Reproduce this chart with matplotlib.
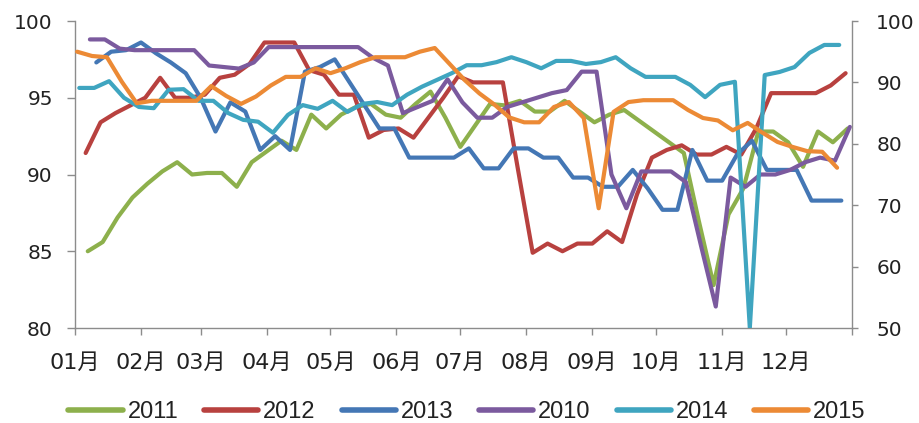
import numpy as np
import matplotlib
matplotlib.use("Agg")
import matplotlib.pyplot as plt

# ---- data (weekly, Friday observations; x = day of year) ----
months = ["01月", "02月", "03月", "04月", "05月", "06月",
          "07月", "08月", "09月", "10月", "11月", "12月"]
month_starts = [0, 31, 59, 90, 120, 151, 181, 212, 243, 273, 304, 334, 365]

start_2011 = 6
v2011 = [85.0, 85.6, 87.2, 88.5, 89.4, 90.2, 90.8, 90.0, 90.1, 90.1,
         89.2, 90.8, 91.5, 92.2, 91.6, 93.9, 93.0, 93.9, 94.4, 94.6,
         93.9, 93.7, 94.6, 95.4, 93.7, 91.8, 93.2, 94.6, 94.5, 94.8,
         94.1, 94.1, 94.8, 94.1, 93.4, 93.9, 94.2, 93.5, 92.8, 92.1,
         91.4, 87.0, 82.8, 87.4, 89.1, 92.8, 92.8, 92.1, 90.5, 92.8,
         92.1, 93.0]

start_2012 = 5
v2012 = [91.4, 93.4, 94.0, 94.5, 95.0, 96.3, 95.0, 95.0, 95.2, 96.3,
         96.5, 97.2, 98.6, 98.6, 98.6, 96.8, 96.5, 95.2, 95.2, 92.4,
         92.9, 93.0, 92.4, 93.7, 95.0, 96.4, 96.0, 96.0, 96.0, 90.4,
         84.9, 85.5, 85.0, 85.5, 85.5, 86.3, 85.6, 88.7, 91.1, 91.6,
         91.9, 91.3, 91.3, 91.8, 91.3, 93.0, 95.3, 95.3, 95.3, 95.3,
         95.8, 96.6]

start_2013 = 10
v2013 = [97.3, 98.0, 98.1, 98.6, 97.9, 97.3, 96.6, 95.0, 92.8, 94.7,
         94.1, 91.6, 92.5, 91.6, 96.7, 97.0, 97.5, 96.0, 94.5, 93.0,
         93.0, 91.1, 91.1, 91.1, 91.1, 91.7, 90.4, 90.4, 91.7, 91.7,
         91.1, 91.1, 89.8, 89.8, 89.2, 89.2, 90.3, 89.1, 87.7, 87.7,
         91.6, 89.6, 89.6, 91.3, 92.2, 90.3, 90.3, 90.3, 88.3, 88.3,
         88.3]

start_2010 = 7
v2010 = [98.8, 98.8, 98.2, 98.1, 98.1, 98.1, 98.1, 98.1, 97.1, 97.0,
         96.9, 97.3, 98.3, 98.3, 98.3, 98.3, 98.3, 98.3, 98.3, 97.6,
         97.1, 94.0, 94.4, 94.8, 96.2, 94.7, 93.7, 93.7, 94.4, 94.7,
         95.0, 95.3, 95.5, 96.7, 96.7, 90.0, 87.8, 90.2, 90.2, 90.2,
         89.5, 85.4, 81.4, 89.8, 89.2, 90.0, 90.0, 90.3, 90.8, 91.1,
         90.9, 93.1]

start_2014 = 2
v2014 = [89.1, 89.1, 90.2, 87.5, 86.0, 85.8, 88.8, 88.9, 87.0, 87.0,
         85.0, 83.9, 83.6, 81.8, 84.7, 86.3, 85.7, 87.0, 85.2, 86.5,
         86.8, 86.3, 88.0, 89.3, 90.4, 91.5, 92.8, 92.8, 93.3, 94.1,
         93.3, 92.3, 93.5, 93.5, 93.0, 93.3, 94.1, 92.3, 90.9, 90.9,
         90.9, 89.6, 87.6, 89.6, 90.1, 50.0, 91.2, 91.7, 92.5, 94.8,
         96.1, 96.1]

start_2015 = 1
v2015 = [95.0, 94.3, 94.1, 90.1, 86.6, 87.0, 87.0, 87.0, 87.0, 89.4,
         87.8, 86.5, 87.7, 89.5, 90.9, 90.9, 92.3, 91.5, 92.3, 93.3,
         94.1, 94.1, 94.1, 95.0, 95.6, 93.0, 90.4, 88.2, 86.4, 84.3,
         83.5, 83.5, 86.0, 86.8, 84.2, 69.5, 85.2, 86.8, 87.1, 87.1,
         87.1, 85.5, 84.2, 83.8, 82.2, 83.4, 81.8, 80.3, 79.5, 78.8,
         78.7, 76.1]

left_series = [("2011", start_2011, v2011, "#8DB04C"),
               ("2012", start_2012, v2012, "#B8413F"),
               ("2013", start_2013, v2013, "#4477B5"),
               ("2010", start_2010, v2010, "#7B5A9E")]
right_series = [("2014", start_2014, v2014, "#3FA5C0"),
                ("2015", start_2015, v2015, "#EC8A35")]

# ---- figure ----
fig = plt.figure(figsize=(9.19, 4.23), dpi=100)
ax = fig.add_axes([75/919, 1-328/423, (852-75)/919, (328-21)/423])
ax2 = ax.twinx()

def xs(start, vals):
    return start + 7*np.arange(len(vals))

handles = []
for name, st, vals, c in left_series:
    h, = ax.plot(xs(st, vals), vals, color=c, lw=3.0, label=name,
                 solid_joinstyle="round", solid_capstyle="round")
    handles.append(h)
for name, st, vals, c in right_series:
    h, = ax2.plot(xs(st, vals), vals, color=c, lw=3.0, label=name,
                  solid_joinstyle="round", solid_capstyle="round")
    handles.append(h)

ax.set_xlim(0, 365)
ax.set_ylim(80, 100)
ax2.set_ylim(50, 100)
ax.set_yticks([80, 85, 90, 95, 100])
ax2.set_yticks([50, 60, 70, 80, 90, 100])

ax.set_xticks(month_starts)
ax.set_xticklabels(months + [""], family=["DejaVu Sans", "Noto Sans CJK SC"],
                   fontsize=16, color="#222222")
for lab in ax.get_yticklabels():
    lab.set_fontsize(14.5); lab.set_color("#222222")
for lab in ax2.get_yticklabels():
    lab.set_fontsize(14.5); lab.set_color("#222222")

spine_c = "#8c8c8c"
for a in (ax, ax2):
    a.spines["top"].set_visible(False)
    for s in ("left", "right", "bottom"):
        a.spines[s].set_color(spine_c)
        a.spines[s].set_linewidth(1.0)
ax.spines["right"].set_visible(False)
ax2.spines["left"].set_visible(False)
ax2.spines["bottom"].set_visible(False)

ax.tick_params(axis="x", direction="out", length=5, width=1, color=spine_c, pad=13)
ax.tick_params(axis="y", direction="out", length=6, width=1, color=spine_c, pad=10)
ax2.tick_params(axis="y", direction="out", length=4.5, width=1, color=spine_c, pad=13)

leg = fig.legend(handles=handles, labels=[h.get_label() for h in handles],
                 loc="center", bbox_to_anchor=(467/919, 1-412/423), ncol=6,
                 frameon=False, handlelength=2.3, handletextpad=0.2,
                 columnspacing=1.1,
                 prop={"family": "Liberation Sans", "size": 17})
for t in leg.get_texts():
    t.set_color("#222222")
for l in leg.get_lines():
    l.set_linewidth(4)

fig.savefig("out.png", dpi=100)
